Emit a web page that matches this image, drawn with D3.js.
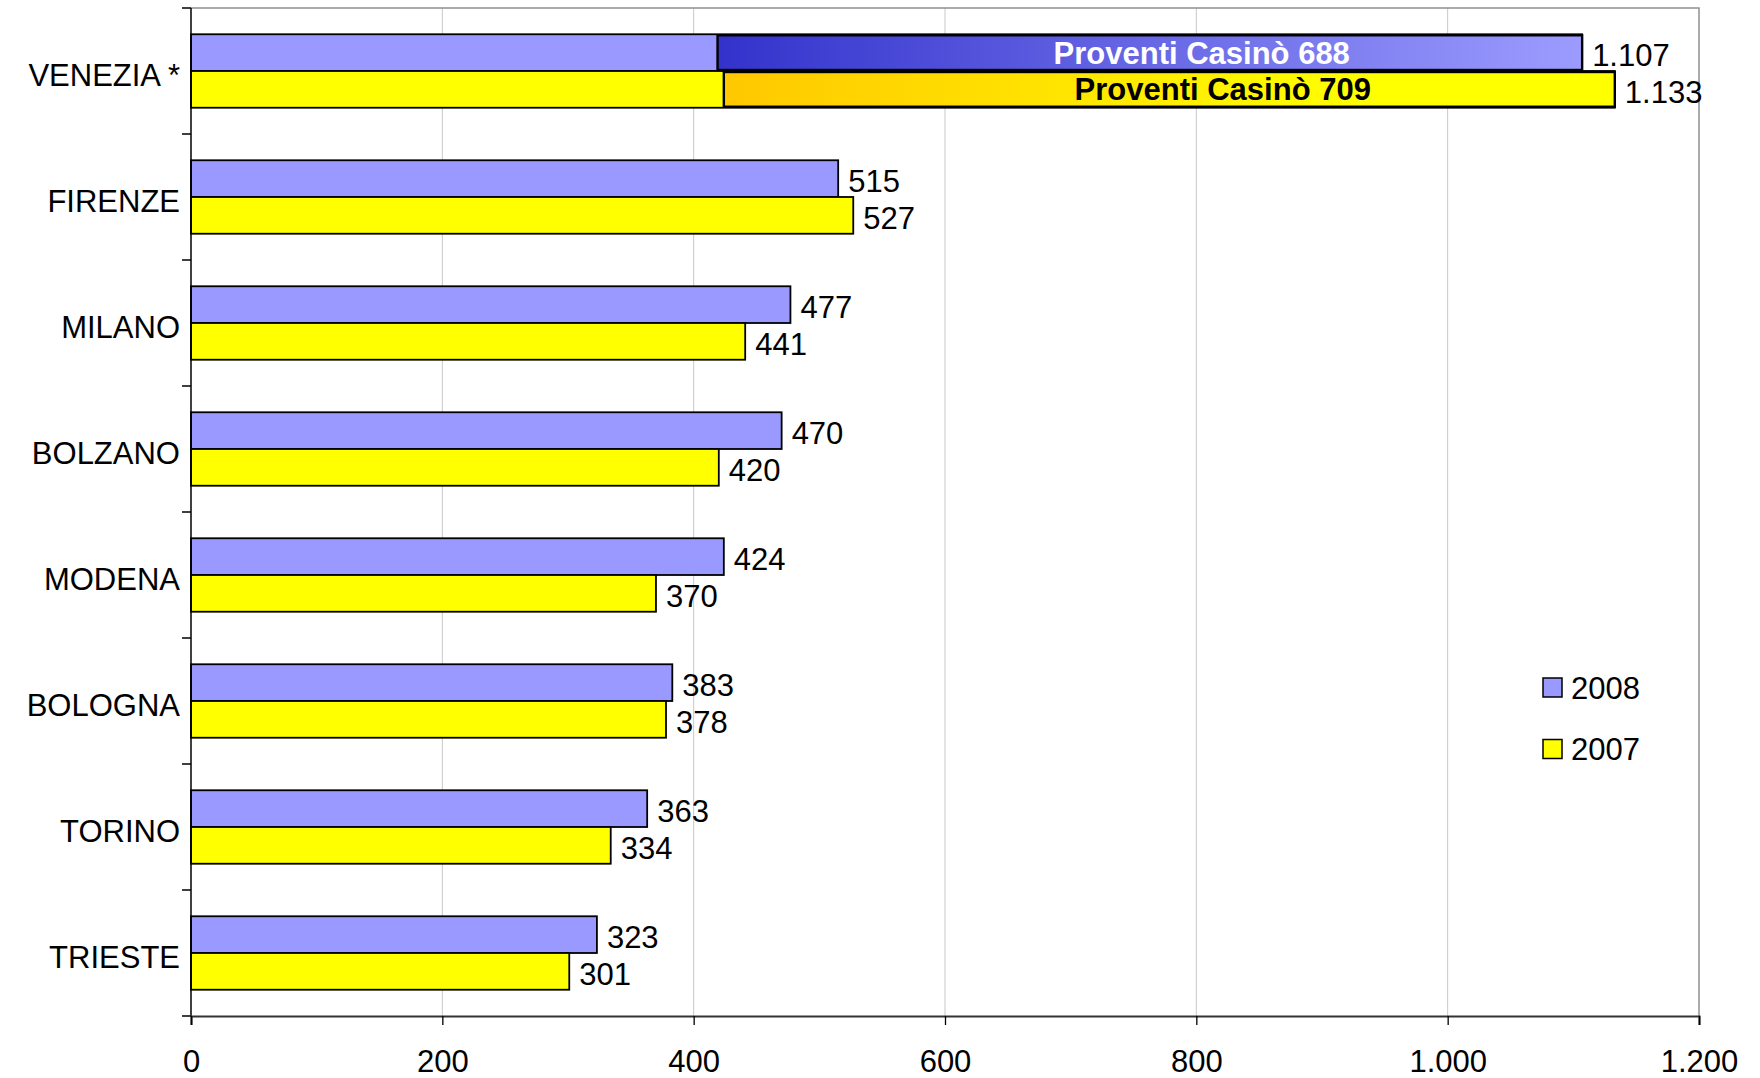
<!DOCTYPE html>
<html>
<head>
<meta charset="utf-8">
<script src="https://cdn.jsdelivr.net/npm/d3@7"></script>
<style>
  html, body { margin: 0; padding: 0; background: #fff; }
  svg { display: block; }
  text { font-family: "Liberation Sans", Arial, sans-serif; }
</style>
</head>
<body>
<script>
// ---- data ----
const categories = ["VENEZIA *", "FIRENZE", "MILANO", "BOLZANO", "MODENA", "BOLOGNA", "TORINO", "TRIESTE"];
const seriesNames = ["2008", "2007"];
const values2008 = [1107, 515, 477, 470, 424, 383, 363, 323];
const values2007 = [1133, 527, 441, 420, 370, 378, 334, 301];
const casinoCategory = "VENEZIA *";
const casino2008 = 688;
const casino2007 = 709;
const xTicks = [0, 200, 400, 600, 800, 1000, 1200];

// ---- layout ----
const W = 1760, H = 1078;
const plot = { left: 191, right: 1699, top: 8, bottom: 1016 };
const fontSize = 31;
const colors = { "2008": "#9999FF", "2007": "#FFFF00" };

const it = d3.formatLocale({ decimal: ",", thousands: ".", grouping: [3], currency: ["€", ""] });
const fmt = it.format(",d");

const svg = d3.select("body").append("svg").attr("width", W).attr("height", H);

const x = d3.scaleLinear().domain([0, 1200]).range([plot.left, plot.right]);
const y = d3.scaleBand().domain(categories).range([plot.top, plot.bottom])
  .paddingInner(0.417).paddingOuter(0.2085);
const sub = d3.scaleBand().domain(seriesNames).range([0, y.bandwidth()]);

const defs = svg.append("defs");
const g1 = defs.append("linearGradient").attr("id", "gBlue").attr("x1", 0).attr("x2", 1).attr("y1", 0).attr("y2", 0);
g1.append("stop").attr("offset", 0).attr("stop-color", "#3333CC");
g1.append("stop").attr("offset", 1).attr("stop-color", "#9C9CFF");
const g2 = defs.append("linearGradient").attr("id", "gYellow").attr("x1", 0).attr("x2", 1).attr("y1", 0).attr("y2", 0);
g2.append("stop").attr("offset", 0).attr("stop-color", "#FFC800");
g2.append("stop").attr("offset", 0.72).attr("stop-color", "#FFFF00");
g2.append("stop").attr("offset", 1).attr("stop-color", "#FFFF00");

// gridlines
svg.append("g").selectAll("line").data(xTicks.filter(d => d > 0 && d < 1200)).join("line")
  .attr("x1", d => x(d)).attr("x2", d => x(d))
  .attr("y1", plot.top).attr("y2", plot.bottom)
  .attr("stroke", "#c8c8c8").attr("stroke-width", 1);

// plot border (top, right)
svg.append("path")
  .attr("d", `M${plot.left},${plot.top}H${plot.right}V${plot.bottom}`)
  .attr("fill", "none").attr("stroke", "#909090").attr("stroke-width", 1.5);

// bars
const rows = categories.map((c, i) => ({ cat: c, "2008": values2008[i], "2007": values2007[i] }));
const grp = svg.append("g").selectAll("g").data(rows).join("g")
  .attr("transform", d => `translate(0,${y(d.cat)})`);

grp.selectAll("rect").data(d => seriesNames.map(s => ({ s, v: d[s] }))).join("rect")
  .attr("x", x(0))
  .attr("y", d => sub(d.s))
  .attr("width", d => x(d.v) - x(0))
  .attr("height", sub.bandwidth())
  .attr("fill", d => colors[d.s])
  .attr("stroke", "#000").attr("stroke-width", 1.8);

// casino overlays
const casino = [
  { s: "2008", total: values2008[categories.indexOf(casinoCategory)], v: casino2008, fill: "url(#gBlue)", tc: "#fff" },
  { s: "2007", total: values2007[categories.indexOf(casinoCategory)], v: casino2007, fill: "url(#gYellow)", tc: "#000" }
];
const og = svg.append("g").attr("transform", `translate(0,${y(casinoCategory)})`);
og.selectAll("rect").data(casino).join("rect")
  .attr("x", d => x(d.total - d.v))
  .attr("y", d => sub(d.s) + 1)
  .attr("width", d => x(d.total) - x(d.total - d.v))
  .attr("height", sub.bandwidth() - 2)
  .attr("fill", d => d.fill)
  .attr("stroke", "#000").attr("stroke-width", 2.4);
og.selectAll("text").data(casino).join("text")
  .attr("x", d => x(d.total - d.v) + 0.56 * (x(d.total) - x(d.total - d.v)))
  .attr("y", d => sub(d.s) + sub.bandwidth() / 2 + 11)
  .attr("text-anchor", "middle")
  .attr("font-weight", "bold")
  .attr("font-size", fontSize)
  .attr("fill", d => d.tc)
  .text(d => `Proventi Casinò ${fmt(d.v)}`);

// value labels
grp.selectAll("text.val").data(d => seriesNames.map(s => ({ s, v: d[s] }))).join("text")
  .attr("class", "val")
  .attr("x", d => x(d.v) + 10)
  .attr("y", d => sub(d.s) + sub.bandwidth() / 2 + 13.5)
  .attr("font-size", fontSize)
  .attr("fill", "#000")
  .text(d => fmt(d.v));

// y axis
const yAxisG = svg.append("g");
yAxisG.append("line").attr("x1", plot.left).attr("x2", plot.left)
  .attr("y1", plot.top).attr("y2", plot.bottom).attr("stroke", "#000").attr("stroke-width", 1.5);
const bounds = categories.map(c => y(c) - y.step() * y.paddingInner() / 2).concat([plot.bottom]);
yAxisG.selectAll("line.tk").data(bounds).join("line").attr("class", "tk")
  .attr("x1", plot.left - 9).attr("x2", plot.left)
  .attr("y1", d => d).attr("y2", d => d)
  .attr("stroke", "#000").attr("stroke-width", 1.5);
yAxisG.selectAll("text").data(categories).join("text")
  .attr("x", plot.left - 11)
  .attr("y", d => y(d) + y.bandwidth() / 2 + 14.5)
  .attr("text-anchor", "end")
  .attr("font-size", fontSize)
  .text(d => d);

// x axis
const xAxis = d3.axisBottom(x).tickValues(xTicks).tickSize(9).tickPadding(25).tickFormat(fmt);
const xg = svg.append("g").attr("transform", `translate(0,${plot.bottom})`).call(xAxis);
xg.select(".domain").attr("stroke", "#333").attr("stroke-width", 2.2);
xg.selectAll(".tick line").attr("stroke", "#000").attr("stroke-width", 1.3);
xg.selectAll(".tick text").attr("font-size", fontSize).attr("font-family", "Liberation Sans, Arial, sans-serif").attr("fill", "#000");

// legend
const leg = svg.append("g").selectAll("g").data(seriesNames).join("g")
  .attr("transform", (d, i) => `translate(1543,${678 + i * 61.5})`);
leg.append("rect").attr("width", 19).attr("height", 19)
  .attr("fill", d => colors[d]).attr("stroke", "#000").attr("stroke-width", 1.5);
leg.append("text").attr("x", 28).attr("y", 20.5).attr("font-size", fontSize).text(d => d);
</script>
</body>
</html>
